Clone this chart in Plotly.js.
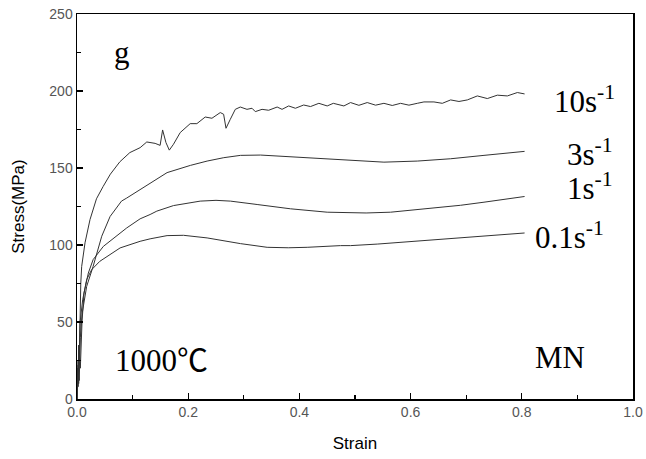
<!DOCTYPE html>
<html>
<head>
<meta charset="utf-8">
<script src="https://cdn.plot.ly/plotly-3.0.1.min.js"></script>
<style>html,body{margin:0;padding:0;background:#fff;}#chart{width:646px;height:459px;}</style>
</head>
<body>
<div id="chart"></div>
<script>
// 10 s^-1
const strain10 = [0,0.001,0.002,0.003,0.004,0.0054,0.0068,0.0084,0.0144,0.0234,0.035,0.047,0.06,0.077,0.095,0.1135,0.1255,0.1405,0.1495,0.154,0.160,0.166,0.1735,0.1856,0.2036,0.2156,0.2306,0.2427,0.2577,0.2637,0.268,0.2757,0.2847,0.2937,0.3057,0.3148,0.3207,0.3328,0.3447,0.36,0.3688,0.3807,0.3928,0.4077,0.42,0.435,0.45,0.461,0.48,0.492,0.507,0.522,0.537,0.552,0.567,0.582,0.597,0.612,0.624,0.642,0.657,0.672,0.687,0.702,0.72,0.738,0.756,0.774,0.792,0.805];
const stress10 = [0,20,8,35,22,60,75,86,101.4,116.5,130,138,146,154,160,163.2,166.9,166,164.7,174.7,166.5,161.6,165.4,173,178.8,178.8,183.1,182.3,186,184.9,175.8,181.6,188.1,189.6,188.1,188.8,186.6,188.1,187.5,189.6,188.1,190.3,188.8,190.9,189.9,192,190.3,192,190.3,192.5,190.7,192.5,190.8,192,190.6,192,190.8,192,192.9,192.9,192,194.2,193.2,194.2,196.8,195.1,197.3,196.8,199,198.1];
// 3 s^-1
const strain3 = [0,0.002,0.004,0.006,0.009,0.0174,0.029,0.0384,0.0445,0.0595,0.08,0.0895,0.1135,0.1495,0.162,0.204,0.234,0.264,0.294,0.330,0.384,0.42,0.474,0.552,0.612,0.672,0.732,0.805];
const stress3 = [0,22,12,40,55,73.1,86.1,97,105.7,118.5,128.5,130.5,136,143.7,147,151.7,154.5,156.7,158.2,158.4,157.3,156.3,155.2,153.8,154.5,156,158.2,160.8];
// 1 s^-1
const strain1 = [0,0.002,0.004,0.006,0.009,0.0126,0.0204,0.029,0.0474,0.0895,0.1135,0.1315,0.1436,0.1735,0.2216,0.25,0.276,0.324,0.384,0.45,0.48,0.52,0.564,0.60,0.642,0.69,0.732,0.77,0.805];
const stress1 = [0,15,30,20,50,68.8,81.8,90.5,99.1,111.1,117,119.8,122,125.6,128.5,129,128.5,126.3,123.5,121.3,120.9,120.8,121.3,122.5,124.1,125.8,127.8,129.6,131.5];
// 0.1 s^-1
const strain01 = [0,0.002,0.003,0.005,0.0054,0.0102,0.0174,0.0264,0.041,0.0775,0.1135,0.1315,0.162,0.1916,0.234,0.294,0.342,0.38,0.414,0.474,0.492,0.54,0.582,0.63,0.672,0.72,0.762,0.805];
const stress01 = [0,25,10,38,49.3,64.4,77.5,84,89.4,98.1,102.4,104,106.1,106.3,104.6,100.9,98.5,98.2,98.5,99.6,99.6,100.6,101.8,102.8,104,105.3,106.8,107.8];

const xTickVals = [0,0.2,0.4,0.6,0.8,1.0];
const xTickText = ["0.0","0.2","0.4","0.6","0.8","1.0"];
const yTickVals = [0,50,100,150,200,250];
const yTickText = ["0","50","100","150","200","250"];

const labelTexts = ["10s<sup>-1</sup>","3s<sup>-1</sup>","1s<sup>-1</sup>","0.1s<sup>-1</sup>"];
const labelX = [0.855,0.877,0.877,0.82];
const labelY = [194.6,160,138,106];

const lineStyle = {color:'#333', width:1};
const traces = [
  {x:strain10, y:stress10},
  {x:strain3, y:stress3},
  {x:strain1, y:stress1},
  {x:strain01, y:stress01}
].map(t => Object.assign(t, {type:'scatter', mode:'lines', line:lineStyle, showlegend:false, hoverinfo:'skip'}));

const serif = 'Liberation Serif, Times New Roman, serif';
const annFont = {family:serif, size:31, color:'#000'};
const annotations = labelTexts.map((t,i)=>({x:labelX[i], y:labelY[i], xref:'x', yref:'y', text:t, showarrow:false, xanchor:'left', yanchor:'middle', font:annFont}));
annotations.push({x:0.081, y:225, xref:'x', yref:'y', text:'g', showarrow:false, xanchor:'center', yanchor:'middle', font:annFont});
annotations.push({x:0.065, y:27, xref:'x', yref:'y', text:'1000<span style="font-family:\'Noto Sans CJK SC\'">\u2103</span>', showarrow:false, xanchor:'left', yanchor:'middle', font:annFont});
annotations.push({x:0.82, y:27, xref:'x', yref:'y', text:'MN', showarrow:false, xanchor:'left', yanchor:'middle', font:annFont});

const tickFont = {family:'Liberation Sans, Arial, sans-serif', size:14, color:'#555'};
const layout = {
  width:646, height:459,
  margin:{l:77, r:13, t:14, b:60},
  paper_bgcolor:'#fff', plot_bgcolor:'#fff',
  xaxis:{
    range:[0,1], tickvals:xTickVals, ticktext:xTickText,
    ticks:'inside', ticklen:6, tickwidth:1.2, tickcolor:'#000',
    minor:{dtick:0.1, ticks:'inside', ticklen:4, tickwidth:1.2, tickcolor:'#000'},
    showline:true, linecolor:'#000', linewidth:1.5, mirror:true,
    showgrid:false, zeroline:false, tickfont:tickFont,
    title:{text:'Strain', font:{family:'Liberation Sans, Arial, sans-serif', size:17, color:'#000'}, standoff:18}
  },
  yaxis:{
    range:[0,250], tickvals:yTickVals, ticktext:yTickText,
    ticks:'inside', ticklen:6, tickwidth:1.2, tickcolor:'#000',
    minor:{dtick:25, ticks:'inside', ticklen:4, tickwidth:1.2, tickcolor:'#000'},
    showline:true, linecolor:'#000', linewidth:1.5, mirror:true,
    showgrid:false, zeroline:false, tickfont:tickFont,
    title:{text:'Stress(MPa)', font:{family:'Liberation Sans, Arial, sans-serif', size:17, color:'#000'}, standoff:20}
  },
  annotations:annotations
};
Plotly.newPlot('chart', traces, layout, {displayModeBar:false, staticPlot:true});
</script>
</body>
</html>
